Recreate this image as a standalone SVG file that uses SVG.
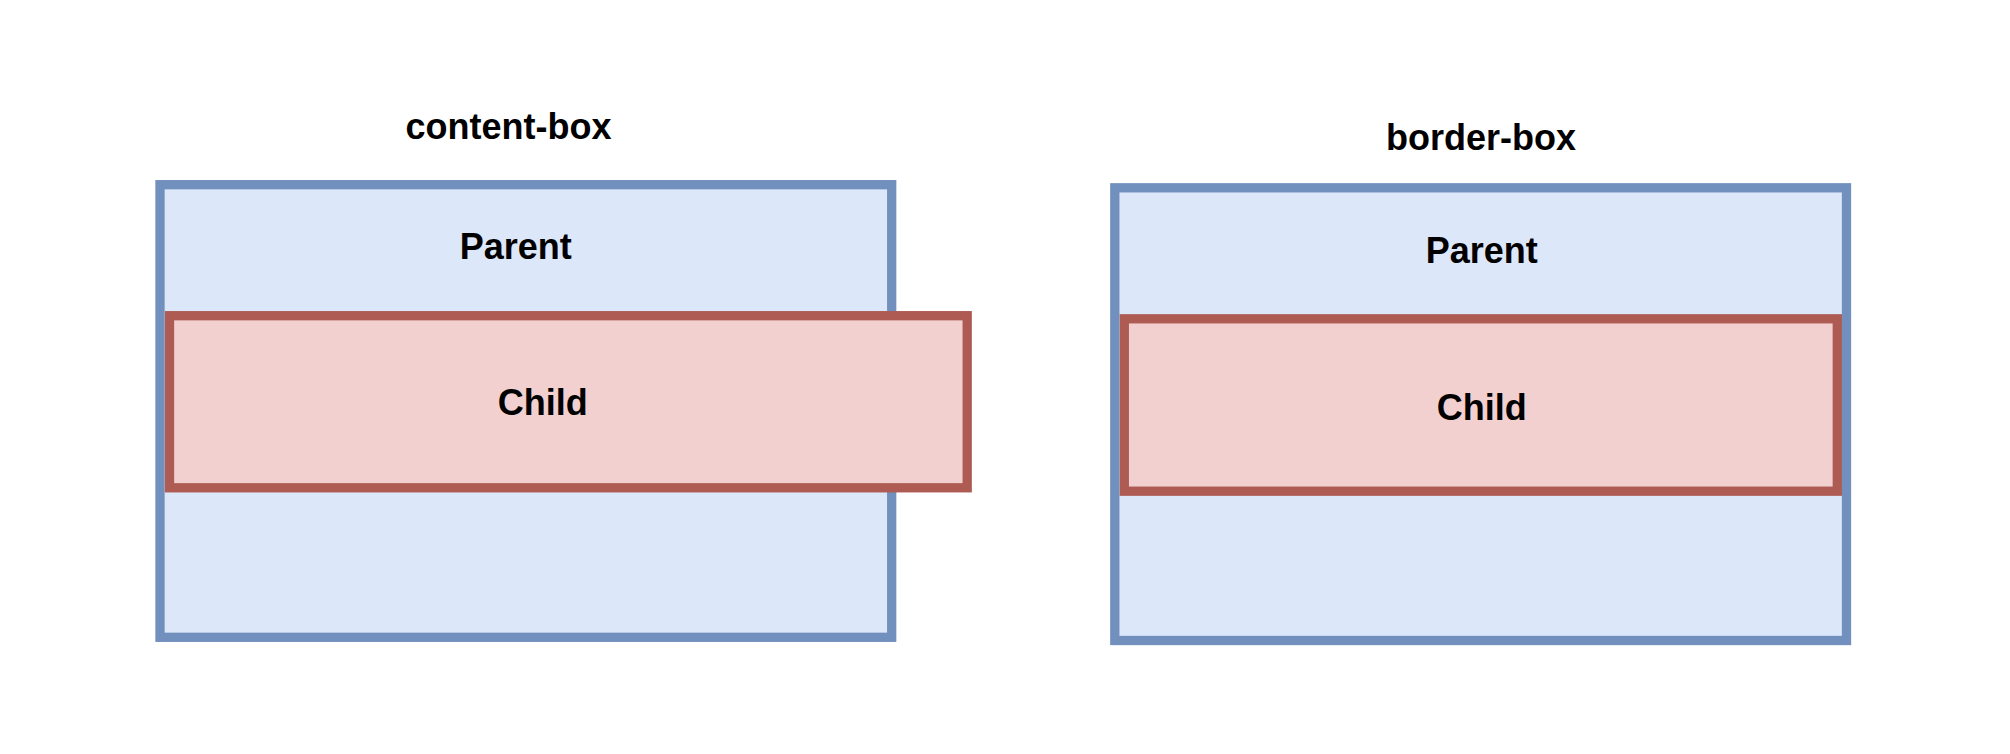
<svg xmlns="http://www.w3.org/2000/svg" width="2010" height="754" viewBox="0 0 2010 754">
  <style>
    .parent { fill: #dce7f9; stroke: #7190bd; stroke-width: 9.3; }
    .child { fill: #f1d0cf; stroke: #ad5b53; stroke-width: 9.3; }
    text { font-family: "Liberation Sans", Arial, Helvetica, sans-serif; font-weight: bold; font-size: 36px; fill: #000; text-anchor: middle; }
  </style>
  <rect width="2010" height="754" fill="#ffffff"/>

  <!-- content-box example: child overflows parent -->
  <g id="title-content-box">
    <text x="508.5" y="139">content-box</text>
  </g>
  <g id="parent-content-box">
    <rect class="parent" x="160" y="184.7" width="731.7" height="452.6"/>
    <text x="515.8" y="259.3">Parent</text>
  </g>
  <g id="child-content-box">
    <rect class="child" x="169.5" y="315.7" width="797.7" height="172.1"/>
    <text x="542.8" y="415">Child</text>
  </g>

  <!-- border-box example: child fits inside parent -->
  <g id="title-border-box">
    <text x="1481" y="150">border-box</text>
  </g>
  <g id="parent-border-box">
    <rect class="parent" x="1114.8" y="187.8" width="731.7" height="452.7"/>
    <text x="1481.7" y="262.7">Parent</text>
  </g>
  <g id="child-border-box">
    <rect class="child" x="1124.3" y="318.8" width="713" height="172.4"/>
    <text x="1481.7" y="420">Child</text>
  </g>

  <g id="connectors"/>
</svg>
